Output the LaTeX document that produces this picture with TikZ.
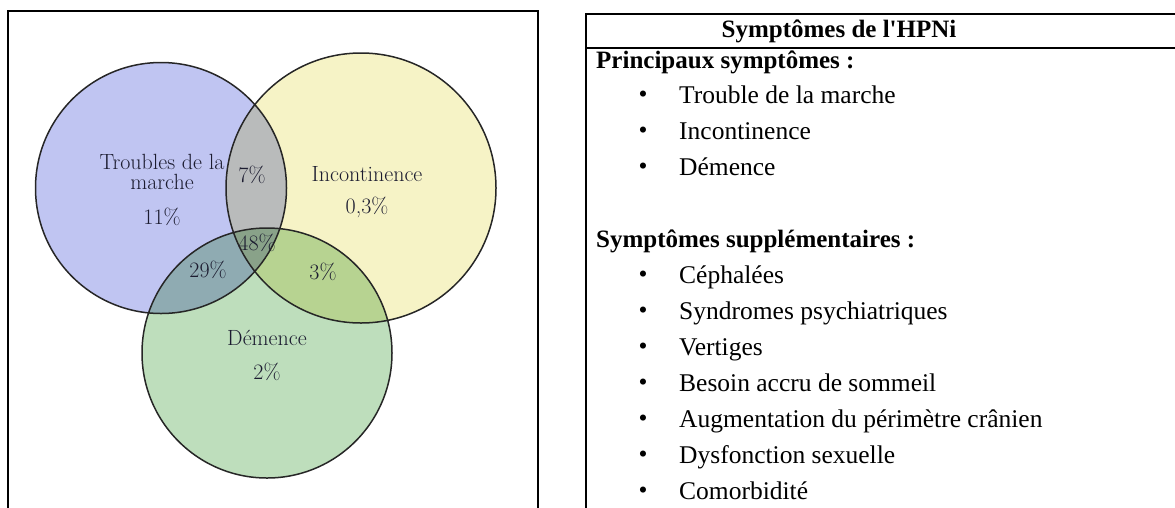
\documentclass[tikz,border=0pt]{standalone}
\usepackage{fontspec}
\usepackage{tikz}
\newfontfamily\tablefont{Liberation Serif}
\definecolor{bleuvenn}{RGB}{192,197,242}
\definecolor{jaunevenn}{RGB}{246,243,198}
\definecolor{vertvenn}{RGB}{190,222,188}
\definecolor{encre}{RGB}{28,28,48}
\tikzset{
  vennlabel/.style={text=encre, font=\fontsize{22}{20}\selectfont, align=center, inner sep=0pt},
  cadre/.style={line width=2pt, line cap=rect},
  ligne/.style={anchor=west, inner sep=0pt, text height=18pt, text depth=5pt, font=\tablefont\fontsize{25.5}{28}\selectfont},
  titre/.style={ligne, font=\tablefont\bfseries\fontsize{25}{28}\selectfont},
  puce/.style={inner sep=0pt, font=\tablefont\fontsize{25.5}{28}\selectfont}
}
\begin{document}
\begin{tikzpicture}[x=1pt, y=-1pt]
			\useasboundingbox (0,0) rectangle (1175,507);
			% cadre de gauche
			\draw [cadre] (8,507) -- (8,11) -- (538,11) -- (538,507);
			% cercles
			\begin{scope}[blend group=multiply]
			\fill [bleuvenn] (161,188) circle (125.5);
			\fill [jaunevenn] (361,188) circle (135);
			\fill [vertvenn] (267,353) circle (125);
			\end{scope}
			\draw [line width=1.5pt, black!85] (161,188) circle (125.5);
			\draw [line width=1.5pt, black!85] (361,188) circle (135);
			\draw [line width=1.5pt, black!85] (267,353) circle (125);
			
			\node [vennlabel] (marche) at (162,172) {Troubles de la\\marche};
			\node [vennlabel] (pmarche) at (162,217) {11\%};
			\node [vennlabel] (mi) at (252,175) {7\%};
			\node [vennlabel] (incont) at (367,174) {Incontinence};
			\node [vennlabel] (pincont) at (367,207) {0,3\%};
			\node [vennlabel] (tous) at (257,243) {48\%};
			\node [vennlabel] (md) at (208,270) {29\%};
			\node [vennlabel] (id) at (323,272) {3\%};
			\node [vennlabel] (demence) at (267,338) {D\'emence};
			\node [vennlabel] (pdemence) at (267,372) {2\%};
			
			% tableau
			\draw [cadre] (586,507) -- (586,14) -- (1175,14);
			\draw [cadre] (586,48) -- (1175,48);
			\node [titre, anchor=center] (entete) at (839,31) {Symptômes de l'HPNi};
			\node [titre] (princ) at (596,62) {Principaux symptômes :};
			\node [puce] (b1) at (643,97) {\textbullet};
			\node [ligne] (s1) at (679,97) {Trouble de la marche};
			\node [puce] (b2) at (643,133) {\textbullet};
			\node [ligne] (s2) at (679,133) {Incontinence};
			\node [puce] (b3) at (643,169) {\textbullet};
			\node [ligne] (s3) at (679,169) {Démence};
			\node [titre] (supp) at (596,241) {Symptômes supplémentaires :};
			\node [puce] (b4) at (643,277) {\textbullet};
			\node [ligne] (s4) at (679,277) {Céphalées};
			\node [puce] (b5) at (643,313) {\textbullet};
			\node [ligne] (s5) at (679,313) {Syndromes psychiatriques};
			\node [puce] (b6) at (643,349) {\textbullet};
			\node [ligne] (s6) at (679,349) {Vertiges};
			\node [puce] (b7) at (643,385) {\textbullet};
			\node [ligne] (s7) at (679,385) {Besoin accru de sommeil};
			\node [puce] (b8) at (643,421) {\textbullet};
			\node [ligne] (s8) at (679,421) {Augmentation du périmètre crânien};
			\node [puce] (b9) at (643,457) {\textbullet};
			\node [ligne] (s9) at (679,457) {Dysfonction sexuelle};
			\node [puce] (b10) at (643,493) {\textbullet};
			\node [ligne] (s10) at (679,493) {Comorbidité};
		\end{tikzpicture}
\end{document}
